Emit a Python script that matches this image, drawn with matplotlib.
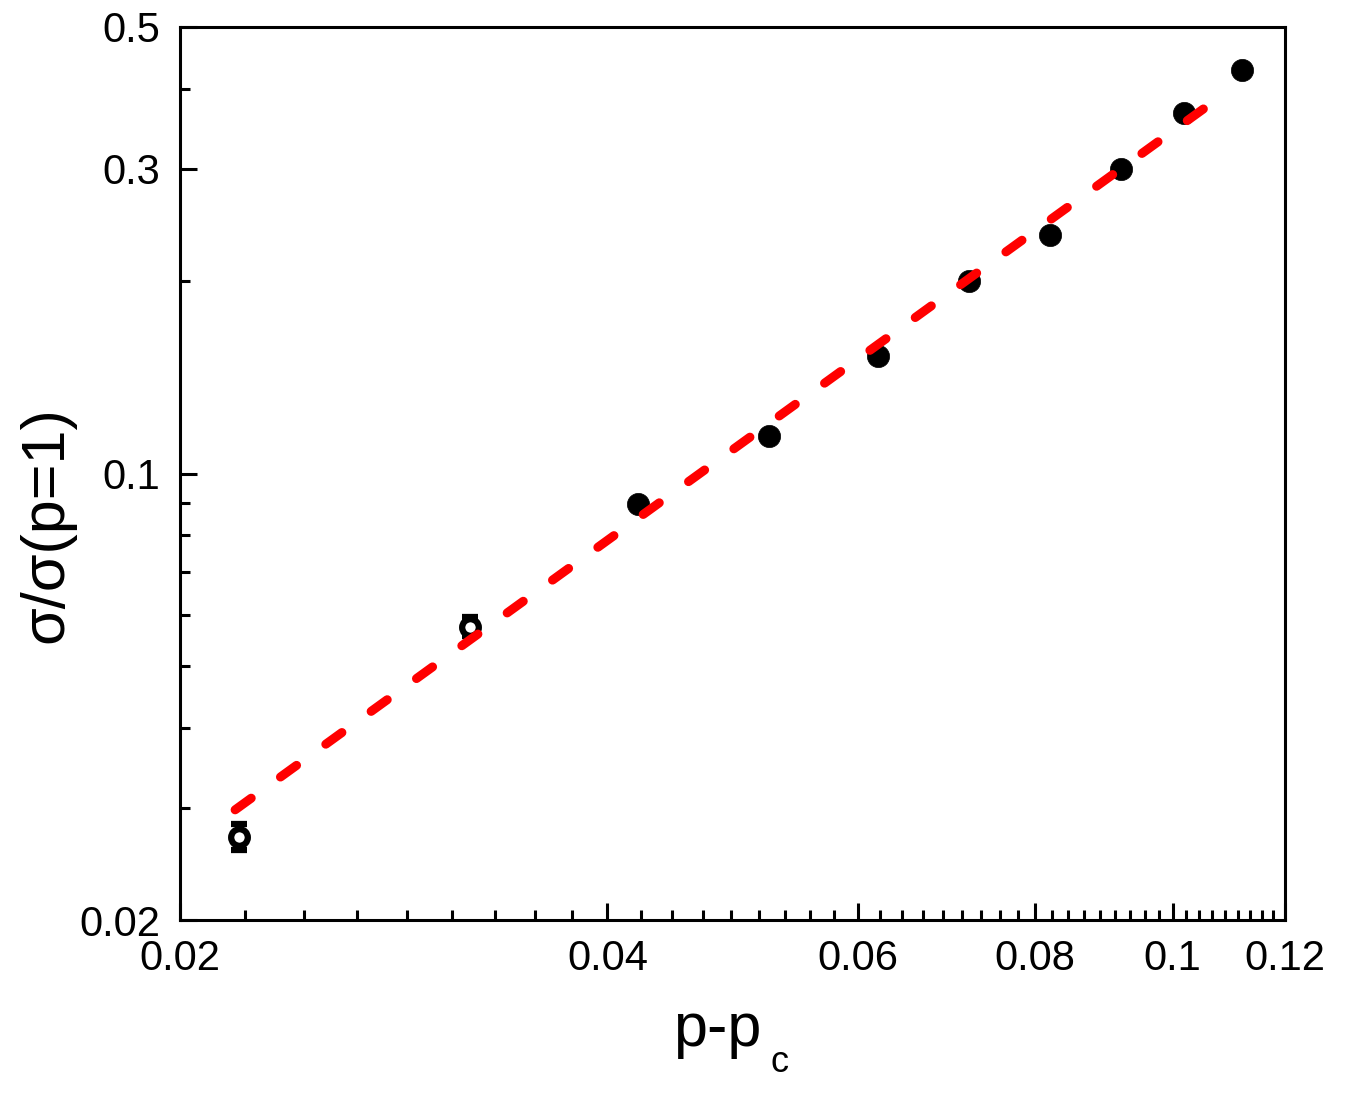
"""Log-log plot of sigma/sigma(p=1) against p - p_c with a power-law fit."""

import matplotlib
matplotlib.use("Agg")
import matplotlib.pyplot as plt
from matplotlib.ticker import FixedLocator, NullFormatter

plt.rcParams["font.family"] = ["Liberation Sans", "DejaVu Sans"]

# open symbols (points closest to p_c, with error bars)
x_open = [0.0220, 0.0320]
y_open = [0.0270, 0.0576]
yerr_open = [0.0013, 0.0020]

# filled symbols
x_filled = [0.0420, 0.0520, 0.0620, 0.0719, 0.0820, 0.0920, 0.1019, 0.1119]
y_filled = [0.0897, 0.1143, 0.1526, 0.2000, 0.2360, 0.2996, 0.3666, 0.4288]

# power-law fit, straight line on log-log: end points
x_fit = [0.02187, 0.1087]
y_fit = [0.02975, 0.3927]

x_major = [0.02, 0.04, 0.06, 0.08, 0.1, 0.12]
x_major_labels = ["0.02", "0.04", "0.06", "0.08", "0.1", "0.12"]
y_major = [0.02, 0.1, 0.3, 0.5]
y_major_labels = ["0.02", "0.1", "0.3", "0.5"]
y_minor = [0.03, 0.04, 0.05, 0.06, 0.07, 0.08, 0.09, 0.2, 0.4]

W, H = 1349, 1095


def minor_between(majors, n=8):
    ticks = []
    for a, b in zip(majors[:-1], majors[1:]):
        step = (b - a) / (n + 1)
        ticks += [a + step * (i + 1) for i in range(n)]
    return ticks


fig = plt.figure(figsize=(W / 100, H / 100), dpi=100)
ax = fig.add_axes([180 / W, 1 - 920 / H, 1105 / W, 893 / H])

ax.errorbar(x_open, y_open, yerr=yerr_open, fmt="o", ms=12, mfc="white",
            mec="black", mew=4.5, ecolor="black", elinewidth=2.4,
            capsize=6, capthick=2.6, zorder=3)
ax.plot(x_filled, y_filled, "o", ms=16, mfc="black", mec="black",
        mew=0.5, zorder=3)
ax.plot(x_fit, y_fit, color="red", lw=6.5, dashes=(2.2, 4.0),
        dash_capstyle="round", zorder=4)

ax.set_xscale("log")
ax.set_yscale("log")
ax.set_xlim(0.02, 0.12)
ax.set_ylim(0.02, 0.5)

ax.xaxis.set_major_locator(FixedLocator(x_major))
ax.set_xticklabels(x_major_labels)
ax.xaxis.set_minor_locator(FixedLocator(minor_between(x_major)))
ax.xaxis.set_minor_formatter(NullFormatter())
ax.yaxis.set_major_locator(FixedLocator(y_major))
ax.set_yticklabels(y_major_labels)
ax.yaxis.set_minor_locator(FixedLocator(y_minor))
ax.yaxis.set_minor_formatter(NullFormatter())

ax.tick_params(which="both", direction="in", width=2.2, labelsize=30,
               top=False, right=False)
ax.tick_params(which="major", length=12)
ax.tick_params(which="minor", length=7)
ax.tick_params(axis="x", pad=14)
ax.tick_params(axis="y", pad=14)
for side in ax.spines.values():
    side.set_linewidth(2.2)

# x label "p-p" with small lowered subscript c
fig.text(717 / W, 1 - 1046 / H, "p-p", fontsize=44, ha="center",
         va="baseline")
fig.text(780 / W, 1 - 1072 / H, "c", fontsize=26, ha="center",
         va="baseline")

# y label, placed by hand so it stays inside the figure
fig.text(47 / W, 1 - 525 / H, "σ/σ(p=1)", fontsize=44, rotation=90,
         ha="center", va="center")

fig.savefig("out.png", dpi=100)
